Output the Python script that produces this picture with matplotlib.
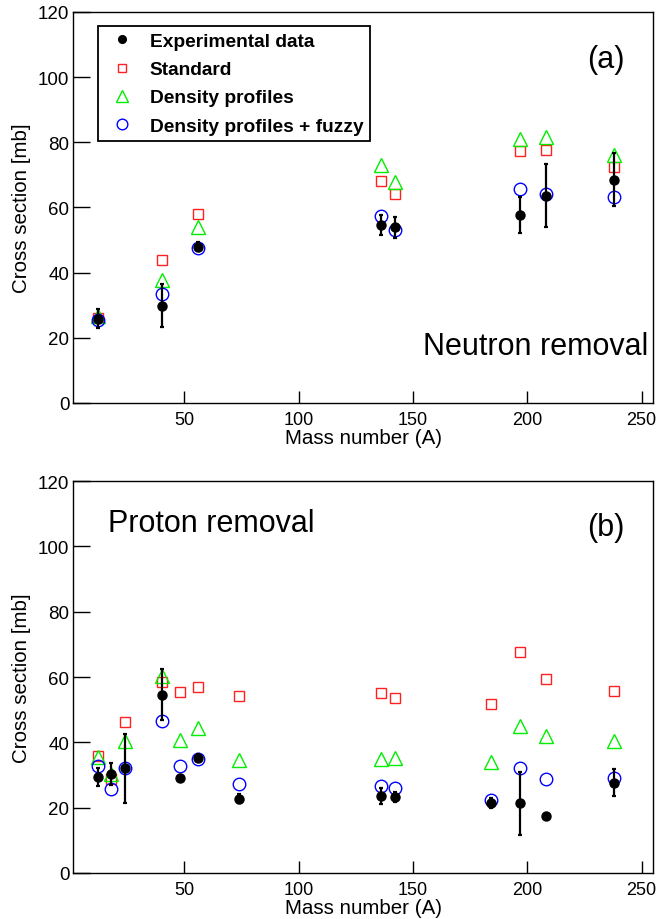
import matplotlib
matplotlib.use('Agg')
import matplotlib.pyplot as plt
import numpy as np

plt.rcParams['font.family'] = ['Liberation Sans', 'DejaVu Sans']

# (a) neutron removal
A_n = [12, 40, 56, 136, 142, 197, 208, 238]
exp_n = [25.9, 29.8, 48.0, 54.6, 53.9, 57.6, 63.6, 68.5]
err_n = [3.0, 6.6, 1.5, 3.0, 3.3, 5.5, 9.7, 8.2]
std_n = [26.2, 43.9, 58.0, 68.0, 64.0, 77.2, 77.6, 72.5]
dens_n = [26.7, 37.7, 54.0, 72.9, 67.9, 81.0, 81.6, 76.1]
fuzzy_n = [25.5, 33.3, 47.6, 57.5, 53.2, 65.6, 64.1, 63.1]

# (b) proton removal
A_p = [12, 18, 24, 40, 48, 56, 74, 136, 142, 184, 197, 208, 238]
exp_p = [29.3, 30.3, 32.0, 54.6, 29.0, 35.3, 22.8, 23.5, 23.3, 21.4, 21.3, 17.3, 27.7]
err_p = [2.8, 3.3, 10.7, 7.9, 0.0, 1.0, 1.5, 2.4, 1.5, 1.5, 9.6, 0.0, 4.2]
std_p = [35.7, 28.7, 46.3, 58.6, 55.4, 57.1, 54.2, 55.1, 53.7, 51.7, 67.7, 59.3, 55.7]
dens_p = [35.4, 30.3, 40.5, 60.3, 40.6, 44.5, 34.6, 34.8, 35.3, 33.9, 45.0, 42.0, 40.5]
fuzzy_p = [32.7, 25.8, 32.3, 46.6, 32.7, 34.9, 27.4, 26.7, 26.0, 22.3, 32.0, 28.7, 29.0]

fig = plt.figure(figsize=(6.58, 9.2), dpi=100)
ax1 = fig.add_axes([0.1117, 0.5609, 0.8807, 0.425])
ax2 = fig.add_axes([0.1117, 0.05, 0.8807, 0.426])


def draw(ax, A, exp, err, std, dens, fuzzy):
    ax.plot(A, std, 's', ms=7.6, mfc='none', mec='#ff2020', mew=1.0, label='Standard')
    ax.plot(A, dens, '^', ms=10, mfc='none', mec='#00ee00', mew=1.0, label='Density profiles')
    ax.plot(A, fuzzy, 'o', ms=9, mfc='none', mec='#0000ff', mew=1.0, label='Density profiles + fuzzy')
    ax.errorbar(A, exp, yerr=err, fmt='none', ecolor='black',
                elinewidth=1.6, capsize=1.5, capthick=1.6, zorder=5)
    ax.plot(A, exp, 'o', ms=6.5, color='black', label='Experimental data', zorder=6)
    ax.set_xlim(1.5, 255)
    ax.set_ylim(0, 120)
    ax.set_xticks([50, 100, 150, 200, 250])
    ax.set_yticks([0, 20, 40, 60, 80, 100, 120])
    ax.tick_params(axis='x', direction='in', length=9, width=1.0, labelsize=13, pad=6)
    ax.tick_params(axis='y', direction='in', length=12, width=1.0, labelsize=13.5, pad=3)
    for s in ax.spines.values():
        s.set_linewidth(1.0)
    ax.set_xlabel('Mass number (A)', fontsize=14.8, labelpad=0)
    ax.set_ylabel('Cross section [mb]', fontsize=14.8, labelpad=5)


draw(ax1, A_n, exp_n, err_n, std_n, dens_n, fuzzy_n)
draw(ax2, A_p, exp_p, err_p, std_p, dens_p, fuzzy_p)

h, l = ax1.get_legend_handles_labels()
order = [3, 0, 1, 2]
leg = ax1.legend([h[i] for i in order], [l[i] for i in order], loc='upper left',
                 bbox_to_anchor=(0.042, 0.964), borderaxespad=0, fancybox=False,
                 edgecolor='black', framealpha=1, prop={'weight': 'bold', 'size': 13.8},
                 handlelength=1.8, handletextpad=0.55, borderpad=0.35, labelspacing=0.56,
                 numpoints=1, markerscale=0.85)
leg.get_frame().set_linewidth(1.3)

ax1.text(253, 15, 'Neutron removal', fontsize=22, ha='right', va='baseline')
ax1.text(234.5, 105.5, '(a)', fontsize=22, ha='center', va='center')
ax2.text(16.5, 104.6, 'Proton removal', fontsize=22, ha='left', va='baseline')
ax2.text(234.5, 105.8, '(b)', fontsize=22, ha='center', va='center')

plt.savefig('out.png', dpi=100)
